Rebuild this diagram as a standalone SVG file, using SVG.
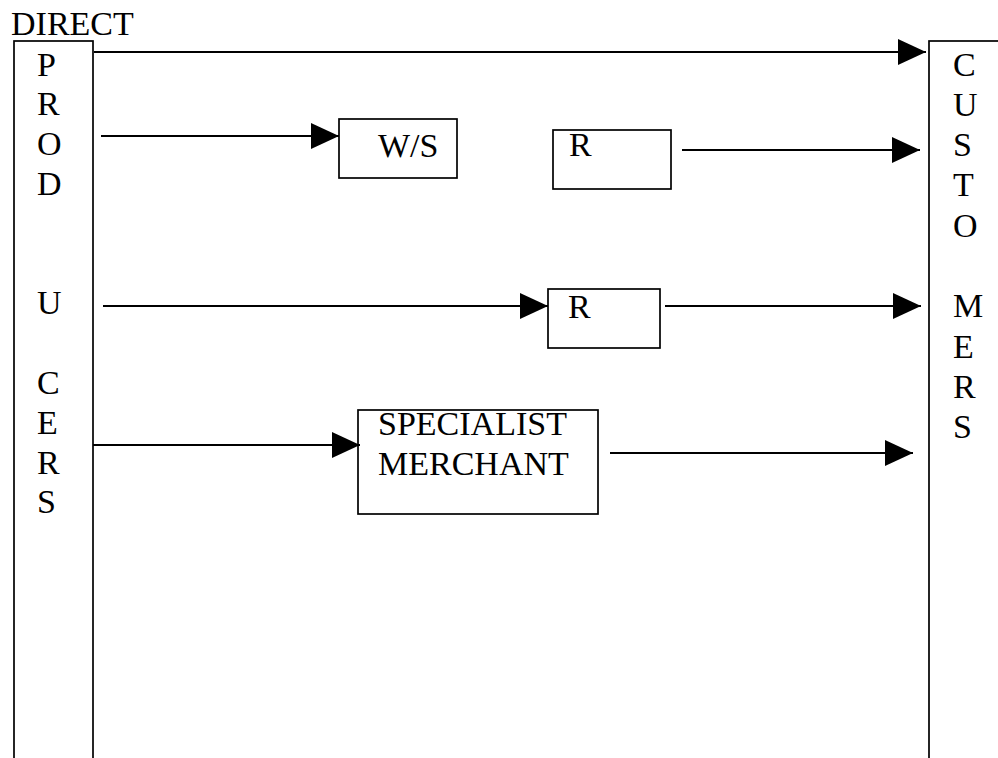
<svg xmlns="http://www.w3.org/2000/svg" width="998" height="758" viewBox="0 0 998 758">
  <style>
    .box { fill: #ffffff; stroke: #000000; stroke-width: 1.7; }
    .txt { font-family: 'Liberation Serif', 'Times New Roman', serif; font-size: 34px; fill: #000000; }
    .conn { stroke: #000000; stroke-width: 2; fill: none; marker-end: url(#head); }
  </style>
  <defs>
    <!-- solid triangular arrowhead, tip at the line end -->
    <marker id="head" viewBox="0 0 28 26" refX="28" refY="13" markerWidth="28" markerHeight="26" markerUnits="userSpaceOnUse" orient="auto">
      <path d="M0,0 L28,13 L0,26 Z" fill="#000000"/>
    </marker>
  </defs>
  <rect x="0" y="0" width="998" height="758" fill="#ffffff"/>

  <text class="txt" x="11" y="35">DIRECT</text>

  <!-- producers column, runs off the bottom edge -->
  <g id="producers">
    <rect class="box" x="14" y="41" width="79" height="760"/>
    <text class="txt" x="37" y="75.5">P</text>
    <text class="txt" x="37" y="115.3">R</text>
    <text class="txt" x="37" y="155.1">O</text>
    <text class="txt" x="37" y="194.9">D</text>
    <text class="txt" x="37" y="314.3">U</text>
    <text class="txt" x="37" y="394">C</text>
    <text class="txt" x="37" y="433.7">E</text>
    <text class="txt" x="37" y="473.5">R</text>
    <text class="txt" x="37" y="513.3">S</text>
  </g>

  <!-- customers column, runs off the right and bottom edges -->
  <g id="customers">
    <rect class="box" x="929" y="41" width="120" height="760"/>
    <text class="txt" x="953" y="75.5">C</text>
    <text class="txt" x="953" y="115.8">U</text>
    <text class="txt" x="953" y="156">S</text>
    <text class="txt" x="953" y="196.4">T</text>
    <text class="txt" x="953" y="236.7">O</text>
    <text class="txt" x="953" y="317.3">M</text>
    <text class="txt" x="953" y="357.6">E</text>
    <text class="txt" x="953" y="398">R</text>
    <text class="txt" x="953" y="438.3">S</text>
  </g>

  <g id="wholesaler">
    <rect class="box" x="339" y="119" width="118" height="59"/>
    <text class="txt" x="378" y="157">W/S</text>
  </g>

  <g id="retailer-1">
    <rect class="box" x="553" y="130" width="118" height="59"/>
    <text class="txt" x="569" y="156">R</text>
  </g>

  <g id="retailer-2">
    <rect class="box" x="548" y="289" width="112" height="59"/>
    <text class="txt" x="568" y="318">R</text>
  </g>

  <g id="specialist">
    <rect class="box" x="358" y="410" width="240" height="104"/>
    <text class="txt" x="378" y="435">SPECIALIST</text>
    <text class="txt" x="378" y="475">MERCHANT</text>
  </g>

  <g id="connectors">
    <line class="conn" x1="94" y1="52" x2="926" y2="52"/>
    <line class="conn" x1="101" y1="136" x2="339" y2="136"/>
    <line class="conn" x1="682" y1="150" x2="920" y2="150"/>
    <line class="conn" x1="103" y1="306" x2="548" y2="306"/>
    <line class="conn" x1="665" y1="306" x2="921" y2="306"/>
    <line class="conn" x1="93" y1="445" x2="360" y2="445"/>
    <line class="conn" x1="610" y1="453" x2="913" y2="453"/>
  </g>
</svg>
